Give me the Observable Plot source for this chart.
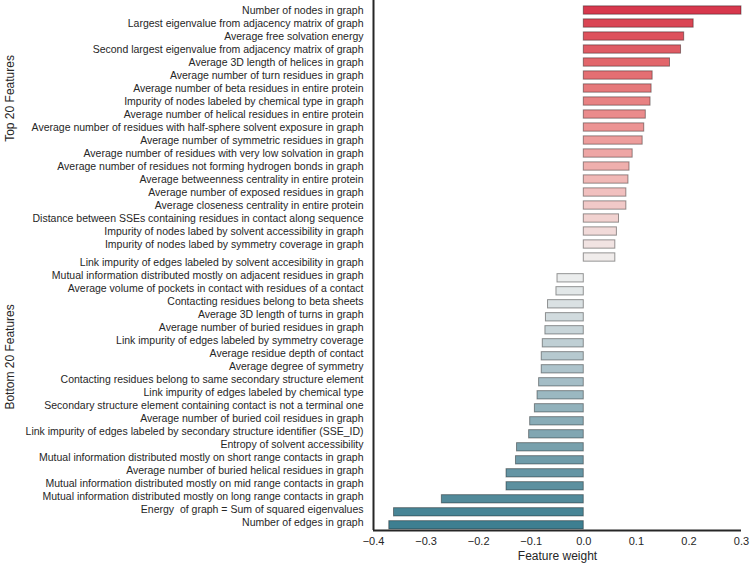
<!DOCTYPE html>
<html>
<head>
<meta charset="utf-8">
<script src="https://cdn.jsdelivr.net/npm/d3@7"></script>
<script src="https://cdn.jsdelivr.net/npm/@observablehq/plot@0.6"></script>
<style>
  html, body { margin: 0; padding: 0; background: #fff; }
</style>
</head>
<body>
<div id="chart"></div>
<script>
// Feature names in chart order (top to bottom)
const topFeatures = [
  "Number of nodes in graph",
  "Largest eigenvalue from adjacency matrix of graph",
  "Average free solvation energy",
  "Second largest eigenvalue from adjacency matrix of graph",
  "Average 3D length of helices in graph",
  "Average number of turn residues in graph",
  "Average number of beta residues in entire protein",
  "Impurity of nodes labeled by chemical type in graph",
  "Average number of helical residues in entire protein",
  "Average number of residues with half-sphere solvent exposure in graph",
  "Average number of symmetric residues in graph",
  "Average number of residues with very low solvation in graph",
  "Average number of residues not forming hydrogen bonds in graph",
  "Average betweenness centrality in entire protein",
  "Average number of exposed residues in graph",
  "Average closeness centrality in entire protein",
  "Distance between SSEs containing residues in contact along sequence",
  "Impurity of nodes labed by solvent accessibility in graph",
  "Impurity of nodes labed by symmetry coverage in graph"
];
const bottomFeatures = [
  "Link impurity of edges labeled by solvent accesibility in graph",
  "Mutual information distributed mostly on adjacent residues in graph",
  "Average volume of pockets in contact with residues of a contact",
  "Contacting residues belong to beta sheets",
  "Average 3D length of turns in graph",
  "Average number of buried residues in graph",
  "Link impurity of edges labeled by symmetry coverage",
  "Average residue depth of contact",
  "Average degree of symmetry",
  "Contacting residues belong to same secondary structure element",
  "Link impurity of edges labeled by chemical type",
  "Secondary structure element containing contact is not a terminal one",
  "Average number of buried coil residues in graph",
  "Link impurity of edges labeled by secondary structure identifier (SSE_ID)",
  "Entropy of solvent accessibility",
  "Mutual information distributed mostly on short range contacts in graph",
  "Average number of buried helical residues in graph",
  "Mutual information distributed mostly on mid range contacts in graph",
  "Mutual information distributed mostly on long range contacts in graph",
  "Energy  of graph = Sum of squared eigenvalues",
  "Number of edges in graph"
];
// Bar weights, top to bottom (20 positive, 20 negative)
const topWeights = [0.300, 0.209, 0.191, 0.185, 0.164, 0.131, 0.129, 0.127, 0.118, 0.115,
                    0.112, 0.093, 0.087, 0.085, 0.081, 0.081, 0.067, 0.063, 0.060, 0.060];
const bottomWeights = [-0.050, -0.052, -0.068, -0.072, -0.073, -0.078, -0.080, -0.080, -0.085, -0.088,
                       -0.093, -0.102, -0.104, -0.127, -0.129, -0.147, -0.147, -0.270, -0.361, -0.370];
const xTicks = [-0.4, -0.3, -0.2, -0.1, 0.0, 0.1, 0.2, 0.3];
const groupTitles = ["Top 20 Features", "Bottom 20 Features"];
const paletteStops = ["#d7384d", "#f0f0f0", "#3e7f91"];

// layout helpers (slot index with a gap between groups)
const BAR_GAP = 0.6, LABEL_GAP = 0.42, TITLE_SHIFT = 0.6;
const weights = [...topWeights, ...bottomWeights];
const nBars = weights.length;
const pal = d3.piecewise(d3.interpolateLab, paletteStops);
const bars = weights.map((w, i) => ({
  w,
  p: i < topWeights.length ? i : i + BAR_GAP,
  c: pal(i / (nBars - 1))
}));
const features = [...topFeatures, ...bottomFeatures];
const labelPos = features.map((f, j) => j < topFeatures.length ? j : j + LABEL_GAP);
const labelByPos = new Map(labelPos.map((p, j) => [p, features[j]]));
// group titles placed alongside their group of bars
const titles = [
  {t: groupTitles[0], p: d3.mean(bars.slice(0, topWeights.length), d => d.p) + TITLE_SHIFT},
  {t: groupTitles[1], p: d3.mean(bars.slice(topWeights.length), d => d.p) + TITLE_SHIFT}
];

const chart = Plot.plot({
  width: 750,
  height: 568,
  marginLeft: 373,
  marginRight: 9,
  marginTop: 0,
  marginBottom: 38,
  style: {fontFamily: "'Liberation Sans', Arial, sans-serif", fontSize: "11px", color: "#262626", background: "#fff"},
  x: {domain: [-0.4, 0.3]},
  y: {domain: [-0.77, 40.0], reverse: true},
  marks: [
    Plot.rect(bars, {
      x1: d => 0, x2: "w",
      y1: d => d.p - 0.32, y2: d => d.p + 0.32,
      fill: d => d.c,
      stroke: "#000", strokeOpacity: 0.4, strokeWidth: 1
    }),
    Plot.axisY({ticks: labelPos, tickFormat: p => labelByPos.get(p), tickSize: 0, tickPadding: 10, label: null, fontSize: 10.5, fill: "#262626"}),
    Plot.axisX({ticks: xTicks, tickFormat: d3.format(".1f"), tickSize: 0, tickPadding: 7, label: null, fontSize: 11, fill: "#262626"}),
    Plot.text(["Feature weight"], {frameAnchor: "bottom", dy: 29, fontSize: 12, fill: "#262626"}),
    Plot.text(titles, {y: "p", text: "t", frameAnchor: "left", dx: -363, rotate: -90, fontSize: 12, fill: "#262626"}),
    Plot.ruleX([-0.4], {stroke: "#262626", strokeWidth: 2}),
    Plot.ruleY([40.0], {stroke: "#262626", strokeWidth: 2})
  ]
});
document.getElementById("chart").appendChild(chart);
</script>
</body>
</html>
